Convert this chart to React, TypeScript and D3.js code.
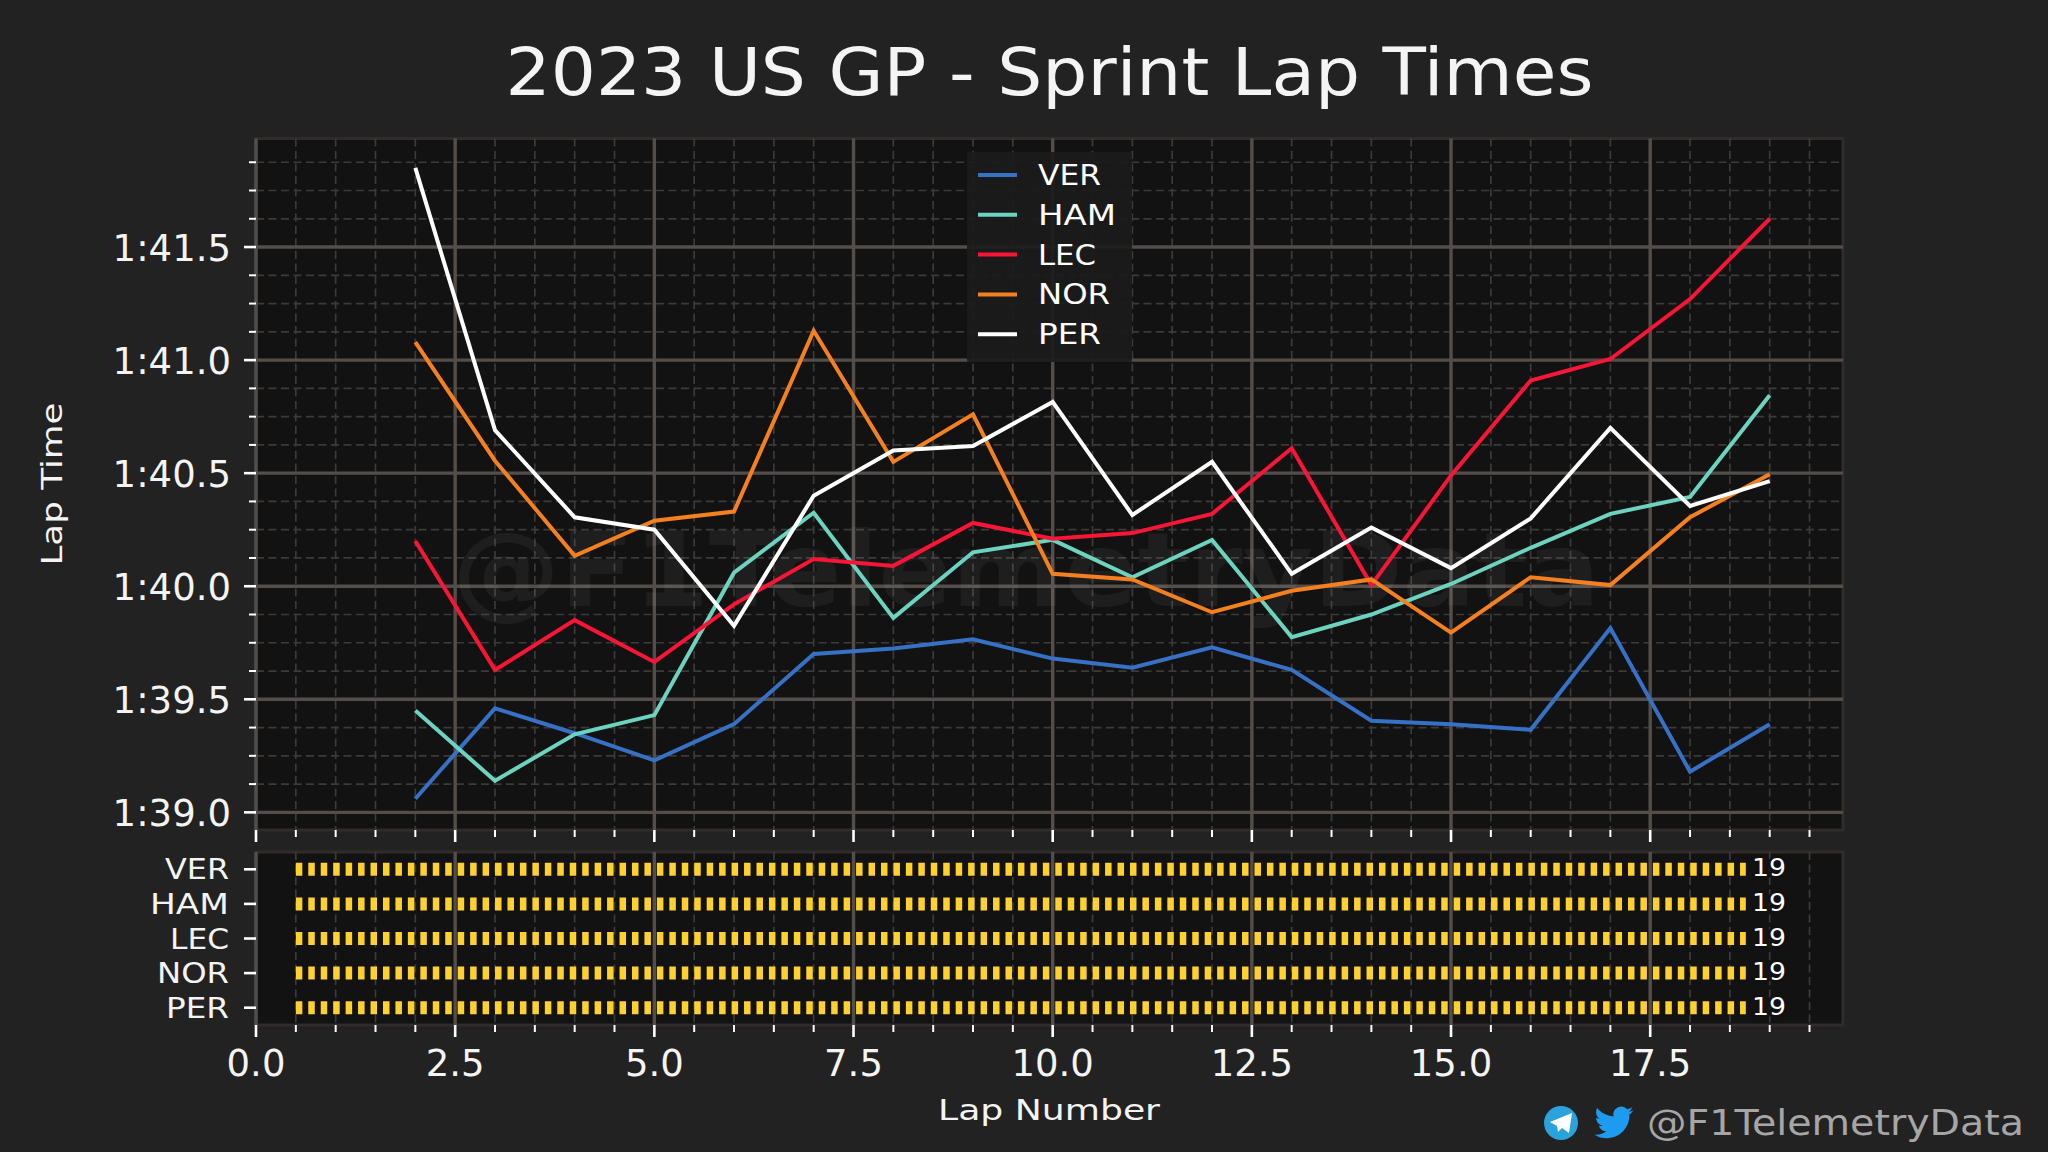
import React from "react";
import * as d3 from "d3";

const laps = d3.range(2, 20);
const VER = [99.06, 99.46, 99.35, 99.23, 99.39, 99.7, 99.725, 99.765, 99.68, 99.64, 99.73, 99.63, 99.405, 99.39, 99.365, 99.815, 99.18, 99.39];
const HAM = [99.45, 99.14, 99.345, 99.43, 100.06, 100.325, 99.86, 100.15, 100.205, 100.04, 100.205, 99.775, 99.875, 100.01, 100.17, 100.32, 100.395, 100.845];
const LEC = [100.2, 99.63, 99.85, 99.665, 99.92, 100.12, 100.09, 100.28, 100.21, 100.235, 100.32, 100.61, 100.005, 100.49, 100.91, 101.005, 101.27, 101.625];
const NOR = [101.08, 100.555, 100.135, 100.29, 100.33, 101.13, 100.55, 100.76, 100.055, 100.03, 99.885, 99.98, 100.03, 99.795, 100.04, 100.005, 100.305, 100.495];
const PER = [101.85, 100.69, 100.305, 100.25, 99.825, 100.4, 100.6, 100.62, 100.815, 100.315, 100.55, 100.055, 100.26, 100.08, 100.3, 100.7, 100.355, 100.465];
const drivers = ["VER", "HAM", "LEC", "NOR", "PER"];
const seriesValues = [VER, HAM, LEC, NOR, PER];
const colors = ["#3671C6", "#6CD3BF", "#F91536", "#F58020", "#FFFFFF"];
const stintStart = [0.5, 0.5, 0.5, 0.5, 0.5];
const stintEnd = [18.7, 18.7, 18.7, 18.7, 18.7];
const stintLabels = ["19", "19", "19", "19", "19"];
const yMajor = [99, 99.5, 100, 100.5, 101, 101.5];
const yTickLabels = ["1:39.0", "1:39.5", "1:40.0", "1:40.5", "1:41.0", "1:41.5"];
const xMajor = [0, 2.5, 5, 7.5, 10, 12.5, 15, 17.5];
const xTickLabels = ["0.0", "2.5", "5.0", "7.5", "10.0", "12.5", "15.0", "17.5"];
const xMinor = d3.range(0, 20, 0.5).filter((v) => v % 2.5 !== 0);
const yMinor = d3.range(99, 102, 0.125).filter((v) => v % 0.5 !== 0);

const FONT = "'DejaVu Sans'";
const legendW: Record<string, number> = { VER: 63, HAM: 78, LEC: 58, NOR: 72, PER: 63 };
const catW: Record<string, number> = { VER: 64, HAM: 79, LEC: 59, NOR: 72, PER: 63 };

const L = 256, R = 1843, T = 138.5, B = 830, T2 = 852, B2 = 1025;

export default function App() {
  const x = d3.scaleLinear().domain([0, 19.92]).range([L, R]);
  const y = d3.scaleLinear().domain([98.922, 101.98]).range([B, T]);
  const band = d3.scaleBand<string>().domain(drivers).range([T2, B2]);
  const rowY = (d: string) => band(d)! + band.bandwidth() / 2;
  const line = d3
    .line<number>()
    .x((_, i) => x(laps[i]))
    .y((v) => y(v));
  const grid = "#544e4a";
  const minor = "#3d3a38";
  const xTicks = (bottom: number) => (
    <g stroke="#fff">
      {xMajor.map((v) => (
        <line key={v} x1={x(v)} x2={x(v)} y1={bottom} y2={bottom + 12} strokeWidth={2.6} />
      ))}
      {xMinor.map((v) => (
        <line key={v} x1={x(v)} x2={x(v)} y1={bottom} y2={bottom + 7} strokeWidth={2} />
      ))}
    </g>
  );
  const vGrid = (top: number, bottom: number) => (
    <g>
      {xMinor.map((v) => (
        <line key={v} x1={x(v)} x2={x(v)} y1={top} y2={bottom} stroke={minor} strokeWidth={1.7} strokeDasharray="8 4.5" />
      ))}
      {xMajor.map((v) => (
        <line key={v} x1={x(v)} x2={x(v)} y1={top} y2={bottom} stroke={grid} strokeWidth={3.4} />
      ))}
    </g>
  );
  return (
    <svg width={2048} height={1152} viewBox="0 0 2048 1152" style={{ position: "fixed", left: 0, top: 0, background: "#222222" }} fontFamily={FONT}>
      <rect width={2048} height={1152} fill="#222222" />
      <text x={1049.5} y={95} textAnchor="middle" fontSize={66} fill="#f4f4f4" textLength={1088} lengthAdjust="spacingAndGlyphs">
        2023 US GP - Sprint Lap Times
      </text>

      {/* lap time panel */}
      <rect x={L} y={T} width={R - L} height={B - T} fill="#121212" stroke="#2f2c2b" strokeWidth={3} />
      {yMinor.map((v) => (
        <line key={v} x1={L} x2={R} y1={y(v)} y2={y(v)} stroke={minor} strokeWidth={1.7} strokeDasharray="8 4.5" />
      ))}
      {vGrid(T, B)}
      {yMajor.map((v) => (
        <line key={v} x1={L} x2={R} y1={y(v)} y2={y(v)} stroke={grid} strokeWidth={3.4} />
      ))}
      <text x={452} y={606} fontSize={104} fontWeight={700} fill="#ffffff" fillOpacity={0.05} textLength={1148} lengthAdjust="spacingAndGlyphs">
        @F1TelemetryData
      </text>
      {seriesValues.map((vals, i) => (
        <path key={drivers[i]} d={line(vals)!} fill="none" stroke={colors[i]} strokeWidth={4} strokeLinejoin="miter" />
      ))}
      <rect x={967} y={152} width={165} height={210} fill="#1b1b1b" fillOpacity={0.92} rx={2} />
      {drivers.map((d, i) => {
        const ly = 175 + i * 39.8;
        return (
          <g key={d}>
            <line x1={978} x2={1017} y1={ly} y2={ly} stroke={colors[i]} strokeWidth={4} />
            <text x={1038} y={ly + 10} fontSize={28} fill="#fff" textLength={legendW[d]} lengthAdjust="spacingAndGlyphs">
              {d}
            </text>
          </g>
        );
      })}
      <g stroke="#fff">
        {yMajor.map((v) => (
          <line key={v} x1={L - 12} x2={L} y1={y(v)} y2={y(v)} strokeWidth={2.6} />
        ))}
        {yMinor.map((v) => (
          <line key={v} x1={L - 7} x2={L} y1={y(v)} y2={y(v)} strokeWidth={2} />
        ))}
      </g>
      {yMajor.map((v, i) => (
        <text key={v} x={231} y={y(v) + 13.5} textAnchor="end" fontSize={37} fill="#f4f4f4">
          {yTickLabels[i]}
        </text>
      ))}
      {xTicks(B)}
      <text transform={`translate(62,484) rotate(-90)`} textAnchor="middle" fontSize={29} fill="#f4f4f4" textLength={163} lengthAdjust="spacingAndGlyphs">
        Lap Time
      </text>

      {/* stint panel */}
      <rect x={L} y={T2} width={R - L} height={B2 - T2} fill="#121212" stroke="#2f2c2b" strokeWidth={3} />
      {vGrid(T2, B2)}
      {drivers.map((d, i) => (
        <g key={d}>
          <line x1={x(stintStart[i])} x2={x(stintEnd[i])} y1={rowY(d)} y2={rowY(d)} stroke="#FFD12E" strokeWidth={13} strokeDasharray="6.5 5.95" />
          <text x={1752} y={rowY(d) + 7} fontSize={25} fill="#fff" stroke="#111" strokeWidth={5} paintOrder="stroke" textLength={34} lengthAdjust="spacingAndGlyphs">
            {stintLabels[i]}
          </text>
          <line x1={L - 12} x2={L} y1={rowY(d)} y2={rowY(d)} stroke="#fff" strokeWidth={2.6} />
          <text x={229} y={rowY(d) + 10} textAnchor="end" fontSize={29} fill="#f4f4f4" textLength={catW[d]} lengthAdjust="spacingAndGlyphs">
            {d}
          </text>
        </g>
      ))}
      {xTicks(B2)}
      {xMajor.map((v, i) => (
        <text key={v} x={x(v)} y={1076} textAnchor="middle" fontSize={37} fill="#f4f4f4">
          {xTickLabels[i]}
        </text>
      ))}
      <text x={1049} y={1120} textAnchor="middle" fontSize={29} fill="#f4f4f4" textLength={222} lengthAdjust="spacingAndGlyphs">
        Lap Number
      </text>

      {/* footer */}
      <circle cx={1561} cy={1123} r={17} fill="#2AA3DD" />
      <path d="M1550 1122 L1572 1113 L1569 1133 L1562 1128 L1558 1132 L1557 1126 Z" fill="#ffffff" />
      <g transform="translate(1594.5,1103) scale(1.62)">
        <path fill="#1D9BF0" d="M23.953 4.57a10 10 0 01-2.825.775 4.958 4.958 0 002.163-2.723c-.951.555-2.005.959-3.127 1.184a4.92 4.92 0 00-8.384 4.482C7.69 8.095 4.067 6.13 1.64 3.162a4.822 4.822 0 00-.666 2.475c0 1.71.87 3.213 2.188 4.096a4.904 4.904 0 01-2.228-.616v.06a4.923 4.923 0 003.946 4.827 4.996 4.996 0 01-2.212.085 4.936 4.936 0 004.604 3.417 9.867 9.867 0 01-6.102 2.105c-.39 0-.779-.023-1.17-.067a13.995 13.995 0 007.557 2.209c9.053 0 13.998-7.496 13.998-13.985 0-.21 0-.42-.015-.63A9.935 9.935 0 0024 4.59z" />
      </g>
      <text x={1647} y={1135} fontSize={36} fill="#a6a6a6" textLength={377} lengthAdjust="spacingAndGlyphs">
        @F1TelemetryData
      </text>
    </svg>
  );
}
